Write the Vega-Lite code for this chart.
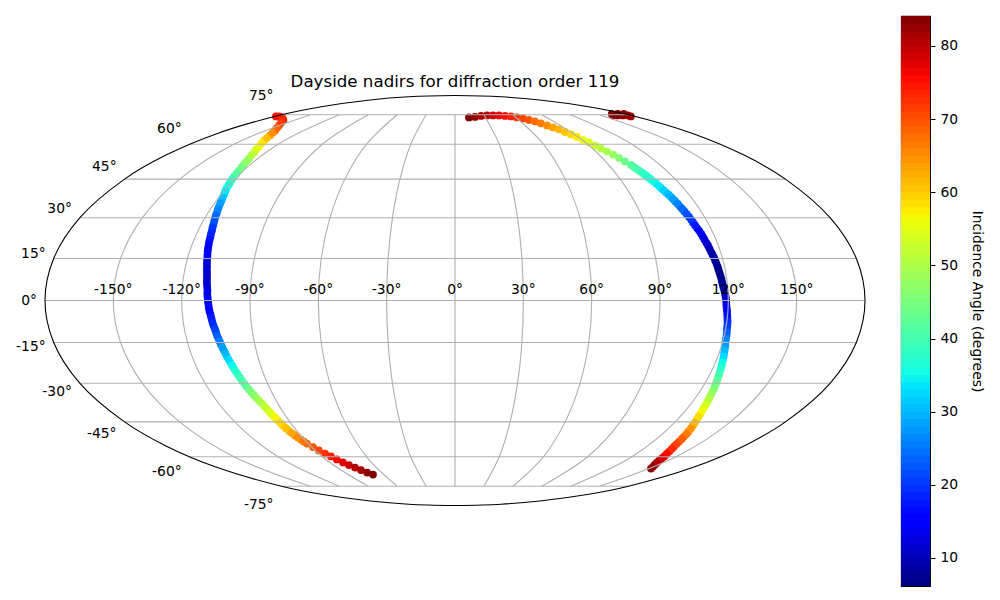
{"$schema":"https://vega.github.io/schema/vega-lite/v6.json","padding":{"left":0,"top":15,"right":0,"bottom":0},"background":"white","spacing":20,"config":{"font":"DejaVu Sans","view":{"stroke":null}},"datasets":{"pts":[
{"lon":-178.3,"lat":74.0,"v":75},{"lon":-175.3,"lat":74.0,"v":75},{"lon":-168.5,"lat":73.47,"v":74},{"lon":-157.8,"lat":71.85,"v":73},{"lon":-148.4,"lat":69.13,"v":70},{"lon":-141.4,"lat":66.61,"v":67},{"lon":-136.9,"lat":64.12,"v":63},{"lon":-134.1,"lat":61.75,"v":59},{"lon":-130.4,"lat":58.95,"v":56},{"lon":-127.5,"lat":56.28,"v":52},{"lon":-125.4,"lat":53.64,"v":49},{"lon":-123.8,"lat":51.07,"v":46},{"lon":-122.6,"lat":48.54,"v":43},{"lon":-121.8,"lat":46.07,"v":40},{"lon":-120.8,"lat":43.65,"v":37},{"lon":-119.8,"lat":41.26,"v":35},{"lon":-118.5,"lat":38.9,"v":32},{"lon":-117.4,"lat":36.55,"v":29},{"lon":-116.6,"lat":34.24,"v":27},{"lon":-115.7,"lat":31.96,"v":25},{"lon":-115.0,"lat":29.69,"v":23},{"lon":-114.2,"lat":27.44,"v":21},{"lon":-113.5,"lat":25.23,"v":19},{"lon":-113.0,"lat":23.02,"v":18},{"lon":-112.6,"lat":20.82,"v":16.5},{"lon":-112.1,"lat":18.64,"v":15},{"lon":-111.5,"lat":16.45,"v":14},{"lon":-111.0,"lat":14.29,"v":13},{"lon":-110.4,"lat":12.12,"v":12},{"lon":-109.9,"lat":9.97,"v":11.5},{"lon":-109.5,"lat":7.83,"v":11.5},{"lon":-109.2,"lat":5.69,"v":12},{"lon":-108.8,"lat":3.56,"v":13},{"lon":-108.7,"lat":1.42,"v":13.5},{"lon":-108.4,"lat":-0.71,"v":14},{"lon":-108.1,"lat":-2.85,"v":15},{"lon":-107.6,"lat":-4.98,"v":17},{"lon":-107.2,"lat":-7.12,"v":18.5},{"lon":-106.7,"lat":-9.27,"v":20},{"lon":-106.2,"lat":-11.41,"v":22},{"lon":-105.7,"lat":-13.57,"v":24.5},{"lon":-105.2,"lat":-15.74,"v":27},{"lon":-104.6,"lat":-17.91,"v":29},{"lon":-104.1,"lat":-20.09,"v":31.5},{"lon":-103.4,"lat":-22.28,"v":34},{"lon":-102.9,"lat":-24.48,"v":36},{"lon":-102.2,"lat":-26.71,"v":38.5},{"lon":-101.6,"lat":-28.94,"v":41},{"lon":-100.8,"lat":-31.2,"v":43},{"lon":-100.0,"lat":-33.48,"v":45.5},{"lon":-99.1,"lat":-35.6,"v":48},{"lon":-98.0,"lat":-37.71,"v":50.5},{"lon":-97.3,"lat":-39.88,"v":53},{"lon":-96.7,"lat":-42.05,"v":55.5},{"lon":-95.9,"lat":-44.27,"v":58},{"lon":-95.3,"lat":-46.49,"v":60},{"lon":-94.5,"lat":-48.76,"v":62},{"lon":-93.3,"lat":-50.63,"v":64},{"lon":-92.0,"lat":-52.35,"v":66},{"lon":-90.7,"lat":-54.07,"v":68},{"lon":-89.1,"lat":-55.6,"v":69.5},{"lon":-87.6,"lat":-57.1,"v":71},{"lon":-85.7,"lat":-58.5,"v":72.5},{"lon":-83.9,"lat":-59.85,"v":74},{"lon":-82.1,"lat":-61.2,"v":76},{"lon":-80.2,"lat":-62.66,"v":77.5},{"lon":-78.0,"lat":-63.87,"v":79},{"lon":-75.7,"lat":-65.1,"v":80.5},{"lon":-73.4,"lat":-66.33,"v":81.5},{"lon":-71.0,"lat":-67.6,"v":83},{"lon":-68.1,"lat":-68.6,"v":84},
{"lon":-163.2,"lat":72.7,"v":73.5},{"lon":-153.1,"lat":70.5,"v":71.5},{"lon":-144.9,"lat":67.9,"v":68.5},{"lon":-139.2,"lat":65.4,"v":65},{"lon":-135.5,"lat":62.9,"v":61},{"lon":-132.3,"lat":60.4,"v":57.5},{"lon":-129,"lat":57.6,"v":54},{"lon":-126.5,"lat":55,"v":50.5},{"lon":-124.6,"lat":52.4,"v":47.5},{"lon":-123.2,"lat":49.8,"v":44.5},{"lon":-122.2,"lat":47.3,"v":41.5},{"lon":-121.3,"lat":44.9,"v":38.5},{"lon":-120.3,"lat":42.5,"v":36},{"lon":-119.2,"lat":40.1,"v":33.5},{"lon":-118,"lat":37.7,"v":30.5},{"lon":-117,"lat":35.4,"v":28},{"lon":-116.2,"lat":33.1,"v":26},{"lon":-115.4,"lat":30.8,"v":24},{"lon":-114.6,"lat":28.6,"v":22},{"lon":-113.9,"lat":26.3,"v":20},{"lon":-113.3,"lat":24.1,"v":18.5},{"lon":-112.8,"lat":21.9,"v":17.2},{"lon":-112.3,"lat":19.7,"v":15.8},{"lon":-111.8,"lat":17.5,"v":14.5},{"lon":-111.2,"lat":15.4,"v":13.5},{"lon":-110.7,"lat":13.2,"v":12.5},{"lon":-110.2,"lat":11,"v":11.8},{"lon":-109.7,"lat":8.9,"v":11.5},{"lon":-109.4,"lat":6.8,"v":11.7},{"lon":-109,"lat":4.6,"v":12.5},{"lon":-108.8,"lat":2.5,"v":13.2},{"lon":-108.5,"lat":0.35,"v":13.8},{"lon":-108.2,"lat":-1.8,"v":14.5},{"lon":-107.9,"lat":-3.9,"v":16},{"lon":-107.4,"lat":-6,"v":17.8},{"lon":-107,"lat":-8.2,"v":19.2},{"lon":-106.4,"lat":-10.3,"v":21},{"lon":-106,"lat":-12.5,"v":23.2},{"lon":-105.4,"lat":-14.7,"v":25.8},{"lon":-104.9,"lat":-16.8,"v":28},{"lon":-104.3,"lat":-19,"v":30.2},{"lon":-103.8,"lat":-21.2,"v":32.8},{"lon":-103.2,"lat":-23.4,"v":35},{"lon":-102.5,"lat":-25.6,"v":37.2},{"lon":-101.9,"lat":-27.8,"v":39.8},{"lon":-101.2,"lat":-30.1,"v":42},{"lon":-100.4,"lat":-32.3,"v":44.2},{"lon":-99.5,"lat":-34.5,"v":46.8},{"lon":-98.5,"lat":-36.7,"v":49.2},{"lon":-97.6,"lat":-38.8,"v":51.8},{"lon":-97,"lat":-41,"v":54.2},{"lon":-96.3,"lat":-43.2,"v":56.8},{"lon":-95.6,"lat":-45.4,"v":59},{"lon":-94.9,"lat":-47.6,"v":61},{"lon":-93.9,"lat":-49.7,"v":63},{"lon":-92.7,"lat":-51.5,"v":65},{"lon":-91.4,"lat":-53.2,"v":67},
{"lon":13.6,"lat":73.47,"v":84},{"lon":19.7,"lat":73.74,"v":83},{"lon":26.2,"lat":74.3,"v":81},{"lon":32.6,"lat":74.59,"v":80},{"lon":38.7,"lat":74.59,"v":78.5},{"lon":44.8,"lat":74.59,"v":77},{"lon":50.4,"lat":74.3,"v":75.5},{"lon":55.8,"lat":74.03,"v":74},{"lon":60.4,"lat":73.47,"v":72.5},{"lon":64.9,"lat":72.92,"v":71},{"lon":68.5,"lat":72.1,"v":69.5},{"lon":72.1,"lat":71.3,"v":68},{"lon":74.8,"lat":70.25,"v":66.5},{"lon":77.6,"lat":69.13,"v":65},{"lon":80.2,"lat":68.1,"v":63.5},{"lon":82.8,"lat":67.15,"v":62},{"lon":84.8,"lat":65.86,"v":60.5},{"lon":86.8,"lat":64.62,"v":59},{"lon":88.8,"lat":63.4,"v":57.5},{"lon":90.3,"lat":61.98,"v":56},{"lon":92.3,"lat":60.85,"v":54.5},{"lon":93.9,"lat":59.4,"v":53},{"lon":95.5,"lat":58.05,"v":51},{"lon":97.2,"lat":56.7,"v":49.5},{"lon":98.8,"lat":55.35,"v":48},{"lon":100.2,"lat":53.85,"v":46},{"lon":101.5,"lat":52.35,"v":44},{"lon":103.0,"lat":50.85,"v":42},{"lon":103.9,"lat":49.37,"v":40.5},{"lon":104.8,"lat":47.98,"v":39},{"lon":105.8,"lat":46.49,"v":37.5},{"lon":106.6,"lat":44.9,"v":36},{"lon":107.5,"lat":43.24,"v":34.5},{"lon":108.2,"lat":41.45,"v":33},{"lon":109.0,"lat":39.68,"v":31},{"lon":109.9,"lat":37.91,"v":29},{"lon":110.5,"lat":36.18,"v":27},{"lon":111.2,"lat":34.24,"v":25},{"lon":111.8,"lat":32.34,"v":23},{"lon":112.5,"lat":30.26,"v":21},{"lon":113.0,"lat":28.2,"v":19},{"lon":113.6,"lat":26.14,"v":16.5},{"lon":114.3,"lat":24.07,"v":14},{"lon":114.7,"lat":21.92,"v":12.5},{"lon":115.3,"lat":19.73,"v":11},{"lon":115.7,"lat":17.54,"v":9.5},{"lon":116.3,"lat":15.39,"v":8.5},{"lon":116.7,"lat":13.2,"v":7.5},{"lon":117.0,"lat":11.06,"v":7},{"lon":117.4,"lat":8.91,"v":7},{"lon":117.7,"lat":6.77,"v":7.5},{"lon":118.1,"lat":4.63,"v":8.5},{"lon":118.6,"lat":2.49,"v":10},{"lon":119.0,"lat":0.36,"v":12},{"lon":119.2,"lat":-1.78,"v":14},{"lon":119.6,"lat":-3.92,"v":16},{"lon":120.0,"lat":-6.05,"v":18},{"lon":120.4,"lat":-8.19,"v":19.5},{"lon":120.6,"lat":-10.34,"v":22},{"lon":121.0,"lat":-12.47,"v":24.5},{"lon":121.2,"lat":-14.65,"v":27},{"lon":121.8,"lat":-16.82,"v":29},{"lon":122.3,"lat":-18.99,"v":31.5},{"lon":122.9,"lat":-21.19,"v":34},{"lon":123.4,"lat":-23.37,"v":36.5},{"lon":124.0,"lat":-25.59,"v":39},{"lon":124.6,"lat":-27.83,"v":41.5},{"lon":125.3,"lat":-30.07,"v":44},{"lon":126.0,"lat":-32.34,"v":46.5},{"lon":126.6,"lat":-34.65,"v":49},{"lon":127.4,"lat":-36.95,"v":52},{"lon":128.2,"lat":-39.29,"v":55},{"lon":129.2,"lat":-41.65,"v":57.5},{"lon":130.5,"lat":-44.07,"v":60},{"lon":131.8,"lat":-46.49,"v":63},{"lon":133.3,"lat":-48.95,"v":65.5},{"lon":134.4,"lat":-51.07,"v":68},{"lon":135.5,"lat":-53.2,"v":70},{"lon":137.0,"lat":-55.35,"v":72},{"lon":138.9,"lat":-57.5,"v":74.5},{"lon":141.5,"lat":-59.85,"v":77},{"lon":143.3,"lat":-61.75,"v":79.5},{"lon":146.3,"lat":-63.62,"v":81.5},{"lon":150.2,"lat":-65.6,"v":83.5},
{"lon":103.5,"lat":50.1,"v":41.2},{"lon":104.4,"lat":48.7,"v":39.8},{"lon":105.3,"lat":47.2,"v":38.2},{"lon":106.2,"lat":45.7,"v":36.8},{"lon":107,"lat":44.1,"v":35.2},{"lon":107.9,"lat":42.3,"v":33.8},{"lon":108.6,"lat":40.6,"v":32},{"lon":109.5,"lat":38.8,"v":30},{"lon":110.2,"lat":37,"v":28},{"lon":110.9,"lat":35.2,"v":26},{"lon":111.5,"lat":33.3,"v":24},{"lon":112.2,"lat":31.3,"v":22},{"lon":112.8,"lat":29.2,"v":20},{"lon":113.3,"lat":27.2,"v":17.8},{"lon":114,"lat":25.1,"v":15.2},{"lon":114.5,"lat":23,"v":13.2},{"lon":115,"lat":20.8,"v":11.8},{"lon":115.5,"lat":18.6,"v":10.2},{"lon":116,"lat":16.5,"v":9},{"lon":116.5,"lat":14.3,"v":8},{"lon":116.9,"lat":12.1,"v":7.2},{"lon":117.2,"lat":10,"v":7},{"lon":117.6,"lat":7.8,"v":7.2},{"lon":117.9,"lat":5.7,"v":8},{"lon":118.4,"lat":3.6,"v":9.2},{"lon":118.8,"lat":1.4,"v":11},{"lon":119.1,"lat":-0.7,"v":13},{"lon":119.4,"lat":-2.85,"v":15},{"lon":119.8,"lat":-5,"v":17},{"lon":120.2,"lat":-7.1,"v":18.8},{"lon":120.5,"lat":-9.3,"v":20.8},{"lon":120.8,"lat":-11.4,"v":23.2},{"lon":121.1,"lat":-13.6,"v":25.8},{"lon":121.5,"lat":-15.7,"v":28},{"lon":122,"lat":-17.9,"v":30.2},{"lon":122.6,"lat":-20.1,"v":32.8},{"lon":123.1,"lat":-22.3,"v":35.2},{"lon":123.7,"lat":-24.5,"v":37.8},{"lon":124.3,"lat":-26.7,"v":40.2},{"lon":125,"lat":-29,"v":42.8},{"lon":125.6,"lat":-31.2,"v":45.2},{"lon":126.3,"lat":-33.5,"v":47.8},{"lon":127,"lat":-35.8,"v":50.5},{"lon":127.8,"lat":-38.1,"v":53.5},{"lon":128.7,"lat":-40.5,"v":56.2},{"lon":129.8,"lat":-42.9,"v":58.8},{"lon":131.1,"lat":-45.3,"v":61.5},{"lon":132.5,"lat":-47.7,"v":64.2},{"lon":133.9,"lat":-50,"v":66.8},{"lon":135,"lat":-52.1,"v":69},{"lon":136.2,"lat":-54.3,"v":71},{"lon":137.9,"lat":-56.4,"v":73.2},{"lon":140.1,"lat":-58.7,"v":75.8},{"lon":142.4,"lat":-60.8,"v":78.2},{"lon":144.7,"lat":-62.7,"v":80.5},{"lon":148.2,"lat":-64.6,"v":82.5},
{"lon":161,"lat":74.59,"v":83},{"lon":166,"lat":74.59,"v":83},{"lon":171.2,"lat":74.59,"v":82},{"lon":175.3,"lat":74.03,"v":82},{"lon":176.3,"lat":74.59,"v":82},{"lon":166.1,"lat":75.48,"v":84},{"lon":172.4,"lat":75.48,"v":84},{"lon":178.8,"lat":75.48,"v":83}
]},"hconcat":[{"width":880,"height":570,"title":{"text":"Dayside nadirs for diffraction order 119","fontSize":16.67,"fontWeight":"normal","font":"DejaVu Sans","color":"black","anchor":"middle","dx":15,"offset":-75},"projection":{"type":"mollweide","scale":144.96,"translate":[455,284.5]},"layer":[
{"data":{"name":"pts"},"mark":{"type":"point","filled":true,"opacity":1,"size":60,"shape":"circle"},"encoding":{"longitude":{"field":"lon","type":"quantitative"},"latitude":{"field":"lat","type":"quantitative"},"color":{"field":"v","type":"quantitative","legend":null,"scale":{"domain":[6.17,14.75,15.92,32.69,33.47,35.42,56.09,56.87,57.65,75.59,77.15,84.1],"range":["#00007f","#0000ff","#0000ff","#00dbff","#00e5fb","#14ffe2","#eeff08","#f6f500","#ffea00","#ff0a00","#e80000","#7f0000"],"interpolate":"rgb"}}}},
{"data":{"values":[{"g":"p75","lon":-180,"lat":75},{"g":"p75","lon":180,"lat":75},{"g":"p60","lon":-180,"lat":60},{"g":"p60","lon":180,"lat":60},{"g":"p45","lon":-180,"lat":45},{"g":"p45","lon":180,"lat":45},{"g":"p30","lon":-180,"lat":30},{"g":"p30","lon":180,"lat":30},{"g":"p15","lon":-180,"lat":15},{"g":"p15","lon":180,"lat":15},{"g":"p0","lon":-180,"lat":0},{"g":"p0","lon":180,"lat":0},{"g":"n15","lon":-180,"lat":-15},{"g":"n15","lon":180,"lat":-15},{"g":"n30","lon":-180,"lat":-30},{"g":"n30","lon":180,"lat":-30},{"g":"n45","lon":-180,"lat":-45},{"g":"n45","lon":180,"lat":-45},{"g":"n60","lon":-180,"lat":-60},{"g":"n60","lon":180,"lat":-60},{"g":"n75","lon":-180,"lat":-75},{"g":"n75","lon":180,"lat":-75}]},"mark":{"type":"line","color":"#b0b0b0","strokeWidth":1.1},"encoding":{"longitude":{"field":"lon","type":"quantitative"},"latitude":{"field":"lat","type":"quantitative"},"detail":{"field":"g"}}},
{"data":{"values":[
{"g":-150,"lon":-150,"lat":-75},{"g":-150,"lon":-150,"lat":-60},{"g":-150,"lon":-150,"lat":-45},{"g":-150,"lon":-150,"lat":-30},{"g":-150,"lon":-150,"lat":-15},{"g":-150,"lon":-150,"lat":0},{"g":-150,"lon":-150,"lat":15},{"g":-150,"lon":-150,"lat":30},{"g":-150,"lon":-150,"lat":45},{"g":-150,"lon":-150,"lat":60},{"g":-150,"lon":-150,"lat":75},
{"g":-120,"lon":-120,"lat":-75},{"g":-120,"lon":-120,"lat":-60},{"g":-120,"lon":-120,"lat":-45},{"g":-120,"lon":-120,"lat":-30},{"g":-120,"lon":-120,"lat":-15},{"g":-120,"lon":-120,"lat":0},{"g":-120,"lon":-120,"lat":15},{"g":-120,"lon":-120,"lat":30},{"g":-120,"lon":-120,"lat":45},{"g":-120,"lon":-120,"lat":60},{"g":-120,"lon":-120,"lat":75},
{"g":-90,"lon":-90,"lat":-75},{"g":-90,"lon":-90,"lat":-60},{"g":-90,"lon":-90,"lat":-45},{"g":-90,"lon":-90,"lat":-30},{"g":-90,"lon":-90,"lat":-15},{"g":-90,"lon":-90,"lat":0},{"g":-90,"lon":-90,"lat":15},{"g":-90,"lon":-90,"lat":30},{"g":-90,"lon":-90,"lat":45},{"g":-90,"lon":-90,"lat":60},{"g":-90,"lon":-90,"lat":75},
{"g":-60,"lon":-60,"lat":-75},{"g":-60,"lon":-60,"lat":-60},{"g":-60,"lon":-60,"lat":-45},{"g":-60,"lon":-60,"lat":-30},{"g":-60,"lon":-60,"lat":-15},{"g":-60,"lon":-60,"lat":0},{"g":-60,"lon":-60,"lat":15},{"g":-60,"lon":-60,"lat":30},{"g":-60,"lon":-60,"lat":45},{"g":-60,"lon":-60,"lat":60},{"g":-60,"lon":-60,"lat":75},
{"g":-30,"lon":-30,"lat":-75},{"g":-30,"lon":-30,"lat":-60},{"g":-30,"lon":-30,"lat":-45},{"g":-30,"lon":-30,"lat":-30},{"g":-30,"lon":-30,"lat":-15},{"g":-30,"lon":-30,"lat":0},{"g":-30,"lon":-30,"lat":15},{"g":-30,"lon":-30,"lat":30},{"g":-30,"lon":-30,"lat":45},{"g":-30,"lon":-30,"lat":60},{"g":-30,"lon":-30,"lat":75},
{"g":0,"lon":0,"lat":-75},{"g":0,"lon":0,"lat":75},
{"g":30,"lon":30,"lat":-75},{"g":30,"lon":30,"lat":-60},{"g":30,"lon":30,"lat":-45},{"g":30,"lon":30,"lat":-30},{"g":30,"lon":30,"lat":-15},{"g":30,"lon":30,"lat":0},{"g":30,"lon":30,"lat":15},{"g":30,"lon":30,"lat":30},{"g":30,"lon":30,"lat":45},{"g":30,"lon":30,"lat":60},{"g":30,"lon":30,"lat":75},
{"g":60,"lon":60,"lat":-75},{"g":60,"lon":60,"lat":-60},{"g":60,"lon":60,"lat":-45},{"g":60,"lon":60,"lat":-30},{"g":60,"lon":60,"lat":-15},{"g":60,"lon":60,"lat":0},{"g":60,"lon":60,"lat":15},{"g":60,"lon":60,"lat":30},{"g":60,"lon":60,"lat":45},{"g":60,"lon":60,"lat":60},{"g":60,"lon":60,"lat":75},
{"g":90,"lon":90,"lat":-75},{"g":90,"lon":90,"lat":-60},{"g":90,"lon":90,"lat":-45},{"g":90,"lon":90,"lat":-30},{"g":90,"lon":90,"lat":-15},{"g":90,"lon":90,"lat":0},{"g":90,"lon":90,"lat":15},{"g":90,"lon":90,"lat":30},{"g":90,"lon":90,"lat":45},{"g":90,"lon":90,"lat":60},{"g":90,"lon":90,"lat":75},
{"g":120,"lon":120,"lat":-75},{"g":120,"lon":120,"lat":-60},{"g":120,"lon":120,"lat":-45},{"g":120,"lon":120,"lat":-30},{"g":120,"lon":120,"lat":-15},{"g":120,"lon":120,"lat":0},{"g":120,"lon":120,"lat":15},{"g":120,"lon":120,"lat":30},{"g":120,"lon":120,"lat":45},{"g":120,"lon":120,"lat":60},{"g":120,"lon":120,"lat":75},
{"g":150,"lon":150,"lat":-75},{"g":150,"lon":150,"lat":-60},{"g":150,"lon":150,"lat":-45},{"g":150,"lon":150,"lat":-30},{"g":150,"lon":150,"lat":-15},{"g":150,"lon":150,"lat":0},{"g":150,"lon":150,"lat":15},{"g":150,"lon":150,"lat":30},{"g":150,"lon":150,"lat":45},{"g":150,"lon":150,"lat":60},{"g":150,"lon":150,"lat":75}
]},"mark":{"type":"line","color":"#b0b0b0","strokeWidth":1.1,"interpolate":"catmull-rom"},"encoding":{"longitude":{"field":"lon","type":"quantitative"},"latitude":{"field":"lat","type":"quantitative"},"detail":{"field":"g"}}},
{"data":{"values":[
{"lon":-180,"lat":-90},{"lon":-180,"lat":-88},{"lon":-180,"lat":-85},{"lon":-180,"lat":-80},{"lon":-180,"lat":-75},{"lon":-180,"lat":-65},{"lon":-180,"lat":-55},{"lon":-180,"lat":-45},{"lon":-180,"lat":-30},{"lon":-180,"lat":-15},{"lon":-180,"lat":0},{"lon":-180,"lat":15},{"lon":-180,"lat":30},{"lon":-180,"lat":45},{"lon":-180,"lat":55},{"lon":-180,"lat":65},{"lon":-180,"lat":75},{"lon":-180,"lat":80},{"lon":-180,"lat":85},{"lon":-180,"lat":88},{"lon":-180,"lat":90},
{"lon":180,"lat":90},{"lon":180,"lat":88},{"lon":180,"lat":85},{"lon":180,"lat":80},{"lon":180,"lat":75},{"lon":180,"lat":65},{"lon":180,"lat":55},{"lon":180,"lat":45},{"lon":180,"lat":30},{"lon":180,"lat":15},{"lon":180,"lat":0},{"lon":180,"lat":-15},{"lon":180,"lat":-30},{"lon":180,"lat":-45},{"lon":180,"lat":-55},{"lon":180,"lat":-65},{"lon":180,"lat":-75},{"lon":180,"lat":-80},{"lon":180,"lat":-85},{"lon":180,"lat":-88},{"lon":180,"lat":-90}
]},"mark":{"type":"line","color":"black","strokeWidth":1.1,"interpolate":"catmull-rom"},"encoding":{"longitude":{"field":"lon","type":"quantitative"},"latitude":{"field":"lat","type":"quantitative"}}},
{"data":{"values":[{"lon":-150,"lat":0,"t":"-150°"},{"lon":-120,"lat":0,"t":"-120°"},{"lon":-90,"lat":0,"t":"-90°"},{"lon":-60,"lat":0,"t":"-60°"},{"lon":-30,"lat":0,"t":"-30°"},{"lon":0,"lat":0,"t":"0°"},{"lon":30,"lat":0,"t":"30°"},{"lon":60,"lat":0,"t":"60°"},{"lon":90,"lat":0,"t":"90°"},{"lon":120,"lat":0,"t":"120°"},{"lon":150,"lat":0,"t":"150°"}]},"mark":{"type":"text","fontSize":13.89,"color":"black","dy":-11,"align":"center","baseline":"middle"},"encoding":{"longitude":{"field":"lon","type":"quantitative"},"latitude":{"field":"lat","type":"quantitative"},"text":{"field":"t"}}},
{"data":{"values":[{"lon":-180,"lat":75,"t":"75°"}]},"mark":{"type":"text","fontSize":13.89,"color":"black","dx":-8,"dy":-18.6,"align":"right","baseline":"middle"},"encoding":{"longitude":{"field":"lon","type":"quantitative"},"latitude":{"field":"lat","type":"quantitative"},"text":{"field":"t"}}},
{"data":{"values":[{"lon":-180,"lat":60,"t":"60°"}]},"mark":{"type":"text","fontSize":13.89,"color":"black","dx":-8,"dy":-15.6,"align":"right","baseline":"middle"},"encoding":{"longitude":{"field":"lon","type":"quantitative"},"latitude":{"field":"lat","type":"quantitative"},"text":{"field":"t"}}},
{"data":{"values":[{"lon":-180,"lat":45,"t":"45°"}]},"mark":{"type":"text","fontSize":13.89,"color":"black","dx":-8,"dy":-12.1,"align":"right","baseline":"middle"},"encoding":{"longitude":{"field":"lon","type":"quantitative"},"latitude":{"field":"lat","type":"quantitative"},"text":{"field":"t"}}},
{"data":{"values":[{"lon":-180,"lat":30,"t":"30°"}]},"mark":{"type":"text","fontSize":13.89,"color":"black","dx":-8,"dy":-8.3,"align":"right","baseline":"middle"},"encoding":{"longitude":{"field":"lon","type":"quantitative"},"latitude":{"field":"lat","type":"quantitative"},"text":{"field":"t"}}},
{"data":{"values":[{"lon":-180,"lat":15,"t":"15°"}]},"mark":{"type":"text","fontSize":13.89,"color":"black","dx":-8,"dy":-4.2,"align":"right","baseline":"middle"},"encoding":{"longitude":{"field":"lon","type":"quantitative"},"latitude":{"field":"lat","type":"quantitative"},"text":{"field":"t"}}},
{"data":{"values":[{"lon":-180,"lat":0,"t":"0°"}]},"mark":{"type":"text","fontSize":13.89,"color":"black","dx":-8,"dy":0,"align":"right","baseline":"middle"},"encoding":{"longitude":{"field":"lon","type":"quantitative"},"latitude":{"field":"lat","type":"quantitative"},"text":{"field":"t"}}},
{"data":{"values":[{"lon":-180,"lat":-15,"t":"-15°"}]},"mark":{"type":"text","fontSize":13.89,"color":"black","dx":-8,"dy":4.2,"align":"right","baseline":"middle"},"encoding":{"longitude":{"field":"lon","type":"quantitative"},"latitude":{"field":"lat","type":"quantitative"},"text":{"field":"t"}}},
{"data":{"values":[{"lon":-180,"lat":-30,"t":"-30°"}]},"mark":{"type":"text","fontSize":13.89,"color":"black","dx":-8,"dy":8.3,"align":"right","baseline":"middle"},"encoding":{"longitude":{"field":"lon","type":"quantitative"},"latitude":{"field":"lat","type":"quantitative"},"text":{"field":"t"}}},
{"data":{"values":[{"lon":-180,"lat":-45,"t":"-45°"}]},"mark":{"type":"text","fontSize":13.89,"color":"black","dx":-8,"dy":12.1,"align":"right","baseline":"middle"},"encoding":{"longitude":{"field":"lon","type":"quantitative"},"latitude":{"field":"lat","type":"quantitative"},"text":{"field":"t"}}},
{"data":{"values":[{"lon":-180,"lat":-60,"t":"-60°"}]},"mark":{"type":"text","fontSize":13.89,"color":"black","dx":-8,"dy":15.6,"align":"right","baseline":"middle"},"encoding":{"longitude":{"field":"lon","type":"quantitative"},"latitude":{"field":"lat","type":"quantitative"},"text":{"field":"t"}}},
{"data":{"values":[{"lon":-180,"lat":-75,"t":"-75°"}]},"mark":{"type":"text","fontSize":13.89,"color":"black","dx":-8,"dy":18.6,"align":"right","baseline":"middle"},"encoding":{"longitude":{"field":"lon","type":"quantitative"},"latitude":{"field":"lat","type":"quantitative"},"text":{"field":"t"}}}
]},
{"width":29,"height":570,"view":{"stroke":"black","strokeWidth":1.1},"data":{"values":[{"a":6,"b":7.2,"c":6.5},{"a":7,"b":8.2,"c":7.5},{"a":8,"b":9.2,"c":8.5},{"a":9,"b":10.2,"c":9.5},{"a":10,"b":11.2,"c":10.5},{"a":11,"b":12.2,"c":11.5},{"a":12,"b":13.2,"c":12.5},{"a":13,"b":14.2,"c":13.5},{"a":14,"b":15.2,"c":14.5},{"a":15,"b":16.2,"c":15.5},{"a":16,"b":17.2,"c":16.5},{"a":17,"b":18.2,"c":17.5},{"a":18,"b":19.2,"c":18.5},{"a":19,"b":20.2,"c":19.5},{"a":20,"b":21.2,"c":20.5},{"a":21,"b":22.2,"c":21.5},{"a":22,"b":23.2,"c":22.5},{"a":23,"b":24.2,"c":23.5},{"a":24,"b":25.2,"c":24.5},{"a":25,"b":26.2,"c":25.5},{"a":26,"b":27.2,"c":26.5},{"a":27,"b":28.2,"c":27.5},{"a":28,"b":29.2,"c":28.5},{"a":29,"b":30.2,"c":29.5},{"a":30,"b":31.2,"c":30.5},{"a":31,"b":32.2,"c":31.5},{"a":32,"b":33.2,"c":32.5},{"a":33,"b":34.2,"c":33.5},{"a":34,"b":35.2,"c":34.5},{"a":35,"b":36.2,"c":35.5},{"a":36,"b":37.2,"c":36.5},{"a":37,"b":38.2,"c":37.5},{"a":38,"b":39.2,"c":38.5},{"a":39,"b":40.2,"c":39.5},{"a":40,"b":41.2,"c":40.5},{"a":41,"b":42.2,"c":41.5},{"a":42,"b":43.2,"c":42.5},{"a":43,"b":44.2,"c":43.5},{"a":44,"b":45.2,"c":44.5},{"a":45,"b":46.2,"c":45.5},{"a":46,"b":47.2,"c":46.5},{"a":47,"b":48.2,"c":47.5},{"a":48,"b":49.2,"c":48.5},{"a":49,"b":50.2,"c":49.5},{"a":50,"b":51.2,"c":50.5},{"a":51,"b":52.2,"c":51.5},{"a":52,"b":53.2,"c":52.5},{"a":53,"b":54.2,"c":53.5},{"a":54,"b":55.2,"c":54.5},{"a":55,"b":56.2,"c":55.5},{"a":56,"b":57.2,"c":56.5},{"a":57,"b":58.2,"c":57.5},{"a":58,"b":59.2,"c":58.5},{"a":59,"b":60.2,"c":59.5},{"a":60,"b":61.2,"c":60.5},{"a":61,"b":62.2,"c":61.5},{"a":62,"b":63.2,"c":62.5},{"a":63,"b":64.2,"c":63.5},{"a":64,"b":65.2,"c":64.5},{"a":65,"b":66.2,"c":65.5},{"a":66,"b":67.2,"c":66.5},{"a":67,"b":68.2,"c":67.5},{"a":68,"b":69.2,"c":68.5},{"a":69,"b":70.2,"c":69.5},{"a":70,"b":71.2,"c":70.5},{"a":71,"b":72.2,"c":71.5},{"a":72,"b":73.2,"c":72.5},{"a":73,"b":74.2,"c":73.5},{"a":74,"b":75.2,"c":74.5},{"a":75,"b":76.2,"c":75.5},{"a":76,"b":77.2,"c":76.5},{"a":77,"b":78.2,"c":77.5},{"a":78,"b":79.2,"c":78.5},{"a":79,"b":80.2,"c":79.5},{"a":80,"b":81.2,"c":80.5},{"a":81,"b":82.2,"c":81.5},{"a":82,"b":83.2,"c":82.5},{"a":83,"b":84.1,"c":83.5},{"a":84,"b":84.1,"c":84}]},"mark":{"type":"rect","clip":true,"stroke":null},"encoding":{"y":{"field":"a","type":"quantitative","scale":{"domain":[6.17,84.1],"nice":false,"zero":false},"axis":{"orient":"right","title":"Incidence Angle (degrees)","titleAngle":90,"titleFontSize":13.89,"titleFontWeight":"normal","titleColor":"black","titlePadding":12,"titleBaseline":"bottom","values":[10,20,30,40,50,60,70,80],"labelFontSize":13.89,"labelColor":"black","tickColor":"black","tickSize":5,"domain":false,"grid":false,"labelPadding":5}},"y2":{"field":"b"},"color":{"field":"c","type":"quantitative","legend":null,"scale":{"domain":[6.17,14.75,15.92,32.69,33.47,35.42,56.09,56.87,57.65,75.59,77.15,84.1],"range":["#00007f","#0000ff","#0000ff","#00dbff","#00e5fb","#14ffe2","#eeff08","#f6f500","#ffea00","#ff0a00","#e80000","#7f0000"],"interpolate":"rgb"}}}}
]}
